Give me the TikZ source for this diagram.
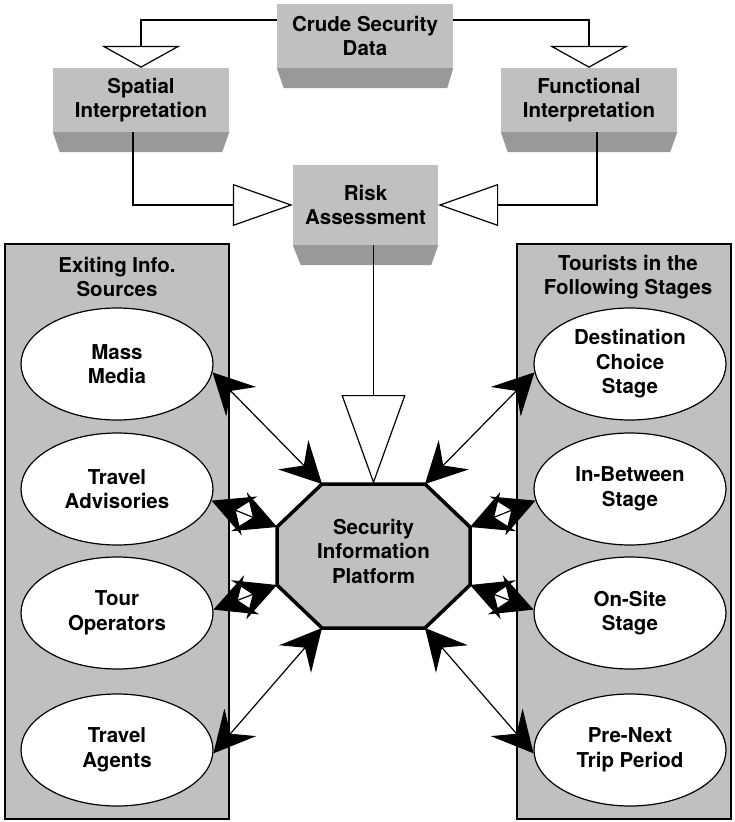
\documentclass[tikz,border=0pt]{standalone}
\usepackage{fontspec}
\setmainfont{TeX Gyre Heros}
\usetikzlibrary{arrows.meta,shapes.geometric}
\definecolor{lightg}{RGB}{192,192,192}
\definecolor{darkg}{RGB}{153,153,153}
\begin{document}
\begin{tikzpicture}[x=1pt,y=-1pt,
  txt/.style={font=\bfseries\fontsize{20.5}{24.5}\selectfont, align=center},
  box3d/.style={txt, fill=lightg, inner sep=0pt, minimum width=176pt, minimum height=64pt},
  oval/.style={txt, ellipse, draw, line width=1.2pt, fill=white, minimum width=192pt, minimum height=112pt, inner sep=0pt},
  panel/.style={draw, line width=1.3pt, fill=lightg},
  shade3d/.style={fill=darkg},
  conn/.style={line width=1.2pt},
  dbl/.style={line width=1.2pt, {Stealth[length=41pt,width=42pt,inset=15pt]}-{Stealth[length=41pt,width=42pt,inset=15pt]}},
]
\useasboundingbox (0,0) rectangle (734,822);
% panels
\draw[panel] (5,244) rectangle (229,819);
\draw[panel] (517,244) rectangle (731,819);
\node[txt] (ltitle) at (117,277) {Exiting Info.\\Sources};
\node[txt] (rtitle) at (628,277) {Tourists in the\\Following Stages};
% ellipses
\node[oval] (mass) at (117,364) {Mass\\Media};
\node[oval] (tadv) at (117,489) {Travel\\Advisories};
\node[oval] (tour) at (117,613) {Tour\\Operators};
\node[oval] (agents) at (117,750) {Travel\\Agents};
\node[oval] (dest) at (630,364) {Destination\\Choice\\Stage};
\node[oval] (inbet) at (630,489) {In-Between\\Stage};
\node[oval] (onsite) at (630,613) {On-Site\\Stage};
\node[oval] (prenext) at (630,750) {Pre-Next\\Trip Period};
% 3d boxes
\node[box3d] (crude) at (365,36) {Crude Security\\Data};
\fill[shade3d] (crude.south west) -- (crude.south east) -- ([xshift=-6pt,yshift=-20pt]crude.south east) -- ([xshift=7pt,yshift=-20pt]crude.south west) -- cycle;
\node[box3d] (spatial) at (141,100) {Spatial\\Interpretation};
\fill[shade3d] (spatial.south west) -- (spatial.south east) -- ([xshift=-7pt,yshift=-20pt]spatial.south east) -- ([xshift=7pt,yshift=-20pt]spatial.south west) -- cycle;
\node[box3d] (functional) at (589,100) {Functional\\Interpretation};
\fill[shade3d] (functional.south west) -- (functional.south east) -- ([xshift=-7pt,yshift=-20pt]functional.south east) -- ([xshift=7pt,yshift=-20pt]functional.south west) -- cycle;
\node[box3d, minimum width=145pt, minimum height=80pt] (risk) at (365.5,205) {Risk\\Assessment};
\fill[shade3d] (risk.south west) -- (risk.south east) -- ([xshift=-7pt,yshift=-20pt]risk.south east) -- ([xshift=8pt,yshift=-20pt]risk.south west) -- cycle;
% octagon
\coordinate (otl) at (322,484);
\coordinate (otr) at (425,484);
\coordinate (ort) at (470,527);
\coordinate (orb) at (470,585);
\coordinate (obr) at (425,628);
\coordinate (obl) at (322,628);
\coordinate (olb) at (277,585);
\coordinate (olt) at (277,527);
\coordinate (otop) at (373.5,484);
\draw[line width=3.5pt, fill=lightg, line join=miter] (otl) -- (otr) -- (ort) -- (orb) -- (obr) -- (obl) -- (olb) -- (olt) -- cycle;
\node[txt] (sip) at (373.5,551) {Security\\Information\\Platform};
% hollow connectors
\draw[conn, -{Triangle[open,length=22pt,width=79pt]}] ([yshift=16pt]crude.west) -| (spatial.north);
\draw[conn, -{Triangle[open,length=22pt,width=79pt]}] ([yshift=16pt]crude.east) -| (functional.north);
\draw[conn, -{Triangle[open,length=60pt,width=42pt]}] ([xshift=-8pt]spatial.south) |- (risk.west);
\draw[conn, -{Triangle[open,length=60pt,width=42pt]}] ([xshift=8pt]functional.south) |- (risk.east);
\draw[conn, -{Triangle[open,length=89pt,width=64pt]}] (otop |- risk.south) -- (otop);
% double arrows
\draw[dbl] (mass.-5) -- (otl);
\draw[dbl] (dest.185) -- (otr);
\draw[dbl] (tadv.-7) -- (olt);
\draw[dbl] (tour.2) -- (olb);
\draw[dbl] (inbet.187) -- (ort);
\draw[dbl] (onsite.178) -- (orb);
\draw[dbl] (agents.-2) -- (obl);
\draw[dbl] (prenext.182) -- (obr);
\end{tikzpicture}
\end{document}
